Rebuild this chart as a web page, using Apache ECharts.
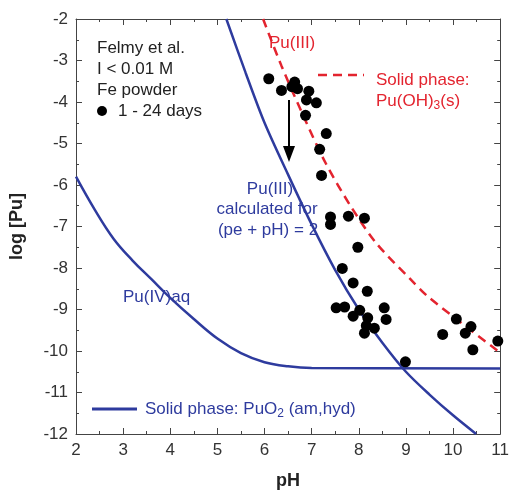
<!DOCTYPE html>
<html>
<head>
<meta charset="utf-8">
<script src="https://cdn.jsdelivr.net/npm/echarts@6/dist/echarts.min.js"></script>
<style>
  html, body { margin: 0; padding: 0; background: #fff; }
  #chart { width: 512px; height: 495px; }
</style>
</head>
<body>
<div id="chart"></div>
<script>
// measured points, Fe powder 1 - 24 days
var measured = [
  [6.09, -3.44], [6.36, -3.72], [6.58, -3.63], [6.64, -3.52], [6.70, -3.68],
  [6.94, -3.74], [6.89, -3.95], [7.10, -4.02], [6.87, -4.32], [7.31, -4.76],
  [7.17, -5.14], [7.21, -5.77], [7.40, -6.77], [7.40, -6.95], [7.78, -6.75],
  [8.12, -6.80], [7.98, -7.50], [7.65, -8.01], [7.88, -8.36], [8.18, -8.56],
  [7.52, -8.96], [7.70, -8.94], [7.88, -9.16], [8.02, -9.02], [8.19, -9.20],
  [8.16, -9.39], [8.33, -9.45], [8.12, -9.57], [8.54, -8.96], [8.58, -9.24],
  [8.99, -10.26], [9.78, -9.60], [10.07, -9.23], [10.38, -9.41], [10.26, -9.57],
  [10.42, -9.97], [10.95, -9.76]
];

// Pu(OH)3(s) solubility (red dashed)
var puOH3 = [
  [5.97, -2], [6.36, -3.13], [6.89, -4.5], [7.31, -5.5], [7.85, -6.55],
  [8.37, -7.4], [9.08, -8.25], [9.5, -8.72], [11, -10.04]
];

// Pu(III) calculated for (pe + pH) = 2
var puIII = [
  [5.19, -2], [5.6, -3.3], [6.0, -4.5], [6.5, -5.75], [7.0, -6.95],
  [7.5, -8.05], [8.0, -9.0], [8.5, -9.8], [9.0, -10.5], [9.5, -11.05],
  [10.0, -11.55], [10.49, -12]
];

// Pu(IV)aq over PuO2(am,hyd)
var puIV = [
  [2, -5.8], [2.4, -6.6], [2.8, -7.3], [3.2, -7.82], [3.6, -8.27], [4, -8.72],
  [4.5, -9.23], [5, -9.7], [5.5, -10.05], [6, -10.27], [6.5, -10.37], [7, -10.41],
  [11, -10.42]
];

var xTicks = [2, 11, 1];
var yTicks = [-12, -2, 1];

var blue = '#2e3b9e';
var red = '#e3242f';
var txt = '#222';
var font = 'Liberation Sans, Arial, sans-serif';

var chart = echarts.init(document.getElementById('chart'));

function baseAxis(pos, show) {
  return {
    type: 'value',
    position: pos,
    axisLine: { show: true, onZero: false, lineStyle: { color: '#444', width: 1 } },
    axisTick: { show: true, inside: true, length: 6, lineStyle: { color: '#444' } },
    minorTick: { show: true, splitNumber: 2, length: 3, lineStyle: { color: '#444' } },
    splitLine: { show: false },
    axisLabel: { show: show, color: '#333', fontSize: 17, fontFamily: font, margin: 8 }
  };
}

var xa = baseAxis('bottom', true);
xa.min = xTicks[0]; xa.max = xTicks[1]; xa.interval = xTicks[2];
xa.name = 'pH';
xa.nameLocation = 'middle';
xa.nameGap = 38;
xa.nameTextStyle = { fontWeight: 'bold', fontSize: 18, color: '#222', fontFamily: font };
var xaTop = baseAxis('top', false);
xaTop.min = xTicks[0]; xaTop.max = xTicks[1]; xaTop.interval = xTicks[2];

var ya = baseAxis('left', true);
ya.min = yTicks[0]; ya.max = yTicks[1]; ya.interval = yTicks[2];
ya.name = 'log [Pu]';
ya.nameLocation = 'middle';
ya.nameGap = 50;
ya.nameTextStyle = { fontWeight: 'bold', fontSize: 18, color: '#222', fontFamily: font };
var yaRight = baseAxis('right', false);
yaRight.min = yTicks[0]; yaRight.max = yTicks[1]; yaRight.interval = yTicks[2];

function label(x, y, text, color, align) {
  return {
    type: 'text', x: x, y: y, z: 100,
    style: {
      text: text, fill: color, font: '17px ' + font,
      textAlign: align || 'left', textVerticalAlign: 'middle',
      rich: {
        n: { fontSize: 17, fontFamily: font, fill: color, color: color },
        s: { fontSize: 12, fontFamily: font, fill: color, color: color, padding: [9, 0, 0, 0] }
      }
    }
  };
}

var option = {
  backgroundColor: '#fff',
  animation: false,
  grid: { left: 76, right: 11, top: 19, bottom: 53 },
  xAxis: [xa, xaTop],
  yAxis: [ya, yaRight],
  series: [
    {
      name: 'Pu(IV)aq', type: 'line', data: puIV, smooth: 0.4, showSymbol: false,
      lineStyle: { color: blue, width: 2.5 }, z: 2
    },
    {
      name: 'Pu(III)', type: 'line', data: puIII, smooth: 0.3, showSymbol: false,
      lineStyle: { color: blue, width: 2.5 }, z: 2
    },
    {
      name: 'Pu(OH)3(s)', type: 'line', data: puOH3, smooth: 0.3, showSymbol: false,
      lineStyle: { color: red, width: 2.5, type: [9, 6] }, z: 2
    },
    {
      name: '1 - 24 days', type: 'scatter', data: measured, symbolSize: 11,
      itemStyle: { color: '#000', opacity: 1 }, z: 5
    }
  ],
  graphic: [
    label(97, 48, 'Felmy et al.', txt),
    label(97, 69, 'I < 0.01 M', txt),
    label(97, 90, 'Fe powder', txt),
    { type: 'circle', shape: { cx: 102, cy: 111, r: 5 }, style: { fill: '#000' } },
    label(118, 111, '1 - 24 days', txt),
    label(269, 43, 'Pu(III)', red),
    { type: 'line', shape: { x1: 318, y1: 75, x2: 364, y2: 75 },
      style: { stroke: red, lineWidth: 2.5, lineDash: [9, 6] } },
    label(376, 80, 'Solid phase:', red),
    label(376, 101, '{n|Pu(OH)}{s|3}{n|(s)}', red),
    label(270, 189, 'Pu(III)', blue, 'center'),
    label(267, 209, 'calculated for', blue, 'center'),
    label(268, 230, '(pe + pH) = 2', blue, 'center'),
    label(123, 297, 'Pu(IV)aq', blue),
    { type: 'line', shape: { x1: 92, y1: 409, x2: 137, y2: 409 },
      style: { stroke: blue, lineWidth: 3 } },
    label(145, 409, '{n|Solid phase: PuO}{s|2}{n| (am,hyd)}', blue),
    // arrow
    { type: 'line', shape: { x1: 289, y1: 100, x2: 289, y2: 150 },
      style: { stroke: '#000', lineWidth: 2 } },
    { type: 'polygon', shape: { points: [[283, 146], [295, 146], [289, 162]] },
      style: { fill: '#000' } }
  ]
};

chart.setOption(option);
</script>
</body>
</html>
